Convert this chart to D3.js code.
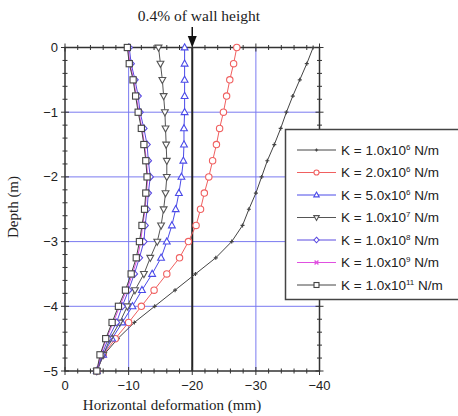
<!DOCTYPE html>
<html><head><meta charset="utf-8">
<script src="https://cdn.jsdelivr.net/npm/d3@7/dist/d3.min.js"></script>
<style>body{margin:0;background:#fff}svg{display:block}</style></head>
<body><svg id="c" width="458" height="416"></svg>
<script>
const depths = [0,-0.25,-0.5,-0.75,-1,-1.25,-1.5,-1.75,-2,-2.25,-2.5,-2.75,-3,-3.25,-3.5,-3.75,-4,-4.25,-4.5,-4.75,-5];
const k1e6  = [-39.0,-38.0,-36.9,-35.8,-34.8,-33.9,-32.9,-31.8,-30.9,-30.0,-28.9,-27.9,-26.2,-23.7,-20.5,-17.3,-14.1,-10.9,-8.3,-6.1,-5.0];
const k2e6  = [-27.0,-26.5,-25.9,-25.4,-24.9,-24.3,-23.8,-23.2,-22.6,-21.9,-21.3,-20.6,-19.4,-18.0,-16.0,-14.0,-12.0,-10.0,-7.9,-6.0,-5.0];
const k5e6  = [-18.8,-18.8,-18.8,-18.8,-18.8,-18.7,-18.7,-18.6,-18.3,-17.9,-17.4,-16.8,-16.0,-15.1,-13.7,-12.1,-10.6,-9.0,-7.4,-6.0,-5.0];
const k1e7  = [-14.7,-15.0,-15.3,-15.5,-15.7,-15.8,-15.9,-16.0,-16.0,-15.8,-15.5,-15.1,-14.5,-13.4,-12.4,-11.0,-9.8,-8.6,-7.1,-6.0,-5.0];
const k1e8  = [-10.1,-10.4,-11.0,-11.5,-11.8,-12.4,-12.9,-13.1,-13.4,-13.1,-12.9,-12.6,-12.4,-11.7,-10.9,-10.0,-9.0,-8.1,-6.8,-5.8,-5.0];
const k1e9  = [-9.9,-10.2,-10.8,-11.2,-11.6,-12.1,-12.5,-12.8,-13.0,-12.8,-12.6,-12.2,-11.9,-11.4,-10.6,-9.7,-8.6,-7.6,-6.5,-5.6,-5.0];
const k1e11 = [-9.8,-10.1,-10.7,-11.1,-11.5,-12.0,-12.4,-12.7,-12.9,-12.7,-12.5,-12.1,-11.7,-11.2,-10.4,-9.5,-8.4,-7.4,-6.4,-5.5,-5.0];
const seriesNames = ["1.0x10|6","2.0x10|6","5.0x10|6","1.0x10|7","1.0x10|8","1.0x10|9","1.0x10|11"];
const xTicks = [0,-10,-20,-30,-40];
const yTicks = [0,-1,-2,-3,-4,-5];
const xGrid = [-10,-30];
const yGrid = [-1,-2,-3,-4];
const refLine = -20;
const annotation = "0.4% of wall height";
const xTitle = "Horizontal deformation (mm)";
const yTitle = "Depth (m)";

const seriesValues = [k1e6,k2e6,k5e6,k1e7,k1e8,k1e9,k1e11];
const styles = [
  {color:"#444", marker:"plus"},
  {color:"#f06060", marker:"circle"},
  {color:"#4a4ae8", marker:"triup"},
  {color:"#555", marker:"tridown"},
  {color:"#5a4ae0", marker:"diamond"},
  {color:"#e050e0", marker:"x"},
  {color:"#444", marker:"square"}
];

const svg = d3.select("#c");
const x = d3.scaleLinear().domain([0,-40]).range([65,319.5]);
const y = d3.scaleLinear().domain([0,-5]).range([47.5,371]);
const [x0,x1] = x.range(), [y0,y1] = y.range();

// grid
svg.append("g").selectAll("line").data(xGrid).join("line")
  .attr("x1",d=>x(d)).attr("x2",d=>x(d)).attr("y1",y0).attr("y2",y1)
  .attr("stroke","#7a7af0").attr("stroke-width",1);
svg.append("g").selectAll("line").data(yGrid).join("line")
  .attr("y1",d=>y(d)).attr("y2",d=>y(d)).attr("x1",x0).attr("x2",x1)
  .attr("stroke","#7a7af0").attr("stroke-width",1);
svg.append("line").attr("x1",x(refLine)).attr("x2",x(refLine)).attr("y1",y0).attr("y2",y1)
  .attr("stroke","#222").attr("stroke-width",2);

// axes with ticks crossing frame
function axisTicks(scale, orient, majors, minorStep, pos){
  const dom = scale.domain();
  const lo = Math.min(...dom), hi = Math.max(...dom);
  const minors = d3.range(Math.round(lo/minorStep), Math.round(hi/minorStep)+1).map(i=>i*minorStep);
  const g = svg.append("g");
  minors.forEach(v=>{
    const isMajor = majors.some(m=>Math.abs(m-v)<1e-6);
    const L = isMajor?4:2.5;
    if(orient==="h") g.append("line").attr("x1",scale(v)).attr("x2",scale(v)).attr("y1",pos-L).attr("y2",pos+L);
    else g.append("line").attr("y1",scale(v)).attr("y2",scale(v)).attr("x1",pos-L).attr("x2",pos+L);
  });
  g.selectAll("line").attr("stroke","#333").attr("stroke-width",1);
}
axisTicks(x,"h",xTicks,2,y1);
axisTicks(x,"h",xTicks,2,y0);
axisTicks(y,"v",yTicks,0.2,x0);
axisTicks(y,"v",yTicks,0.2,x1);
svg.append("rect").attr("x",x0).attr("y",y0).attr("width",x1-x0).attr("height",y1-y0)
  .attr("fill","none").attr("stroke","#333").attr("stroke-width",1.5);

// tick labels
svg.append("g").selectAll("text").data(xTicks).join("text")
  .attr("x",d=>x(d)).attr("y",y1+19).attr("text-anchor","middle")
  .attr("font-family","Liberation Sans, Arial, sans-serif").attr("font-size",13).attr("fill","#222")
  .text(d=>d===0?"0":d3.format("d")(d));
svg.append("g").selectAll("text").data(yTicks).join("text")
  .attr("x",x0-7).attr("y",d=>y(d)+4.5).attr("text-anchor","end")
  .attr("font-family","Liberation Sans, Arial, sans-serif").attr("font-size",13).attr("fill","#222")
  .text(d=>d===0?"0":d3.format("d")(d));

// titles
svg.append("text").attr("x",172).attr("y",410).attr("text-anchor","middle")
  .attr("font-family","Liberation Serif, Times New Roman, serif").attr("font-size",15).attr("fill","#222").text(xTitle);
svg.append("text").attr("transform","translate(18,207) rotate(-90)").attr("text-anchor","middle")
  .attr("font-family","Liberation Serif, Times New Roman, serif").attr("font-size",15).attr("fill","#222").text(yTitle);
svg.append("text").attr("x",199).attr("y",21).attr("text-anchor","middle")
  .attr("font-family","Liberation Serif, Times New Roman, serif").attr("font-size",15.5).attr("fill","#222").text(annotation);
// arrow
const ax = x(refLine);
svg.append("line").attr("x1",ax).attr("x2",ax).attr("y1",27).attr("y2",38).attr("stroke","#111").attr("stroke-width",1.5);
svg.append("path").attr("d",`M${ax-4.5},36 L${ax+4.5},36 L${ax},${y0} Z`).attr("fill","#111");

// markers
function drawMarker(g, type, color, k){
  let p;
  switch(type){
    case "plus": p = g.append("path").attr("d",`M${-2*k},0H${2*k}M0,${-2*k}V${2*k}`).attr("stroke",color).attr("stroke-width",1.2).attr("fill","none"); break;
    case "circle": p = g.append("circle").attr("r",3.2*k).attr("fill","#fff").attr("stroke",color); break;
    case "triup": p = g.append("path").attr("d",`M0,${-3.7*k}L${3.4*k},${2.4*k}L${-3.4*k},${2.4*k}Z`).attr("fill","#fff").attr("stroke",color); break;
    case "tridown": p = g.append("path").attr("d",`M0,${3.7*k}L${3.4*k},${-2.4*k}L${-3.4*k},${-2.4*k}Z`).attr("fill","#fff").attr("stroke",color); break;
    case "diamond": p = g.append("path").attr("d",`M0,${-3.5*k}L${3.2*k},0L0,${3.5*k}L${-3.2*k},0Z`).attr("fill","#fff").attr("stroke",color); break;
    case "x": p = g.append("path").attr("d",`M${-2.4*k},${-2.4*k}L${2.4*k},${2.4*k}M${-2.4*k},${2.4*k}L${2.4*k},${-2.4*k}`).attr("stroke",color).attr("stroke-width",1.3).attr("fill","none"); break;
    case "square": p = g.append("rect").attr("x",-3.1*k).attr("y",-3.1*k).attr("width",6.2*k).attr("height",6.2*k).attr("fill","#fff").attr("stroke",color); break;
  }
  if(!p.attr("stroke-width")) p.attr("stroke-width",1.1);
}

const line = d3.line().x(d=>x(d[0])).y(d=>y(d[1]));
seriesValues.forEach((vals,i)=>{
  const pts = vals.map((v,j)=>[v,depths[j]]);
  const g = svg.append("g");
  g.append("path").datum(pts).attr("d",line).attr("fill","none").attr("stroke",styles[i].color).attr("stroke-width",1);
  pts.forEach(p=>{
    const mg = g.append("g").attr("transform",`translate(${x(p[0])},${y(p[1])})`);
    drawMarker(mg, styles[i].marker, styles[i].color, 1);
  });
});

// legend
const lg = svg.append("g");
lg.append("rect").attr("x",285.5).attr("y",129.5).attr("width",180).attr("height",170)
  .attr("fill","#fff").attr("stroke","#444").attr("stroke-width",1.5);
seriesNames.forEach((nm,i)=>{
  const ly = 150 + i*22.5;
  lg.append("line").attr("x1",297).attr("x2",336).attr("y1",ly).attr("y2",ly).attr("stroke",styles[i].color).attr("stroke-width",1);
  const mg = lg.append("g").attr("transform",`translate(316.5,${ly})`);
  drawMarker(mg, styles[i].marker, styles[i].color, 0.8);
  const [base,exp] = nm.split("|");
  const t = lg.append("text").attr("x",341).attr("y",ly+4.5)
    .attr("font-family","Liberation Sans, Arial, sans-serif").attr("font-size",13.5).attr("fill","#222");
  t.append("tspan").text("K = "+base);
  t.append("tspan").attr("dy",-5).attr("font-size",8).text(exp);
  t.append("tspan").attr("dy",5).text(" N/m");
});
</script></body></html>
